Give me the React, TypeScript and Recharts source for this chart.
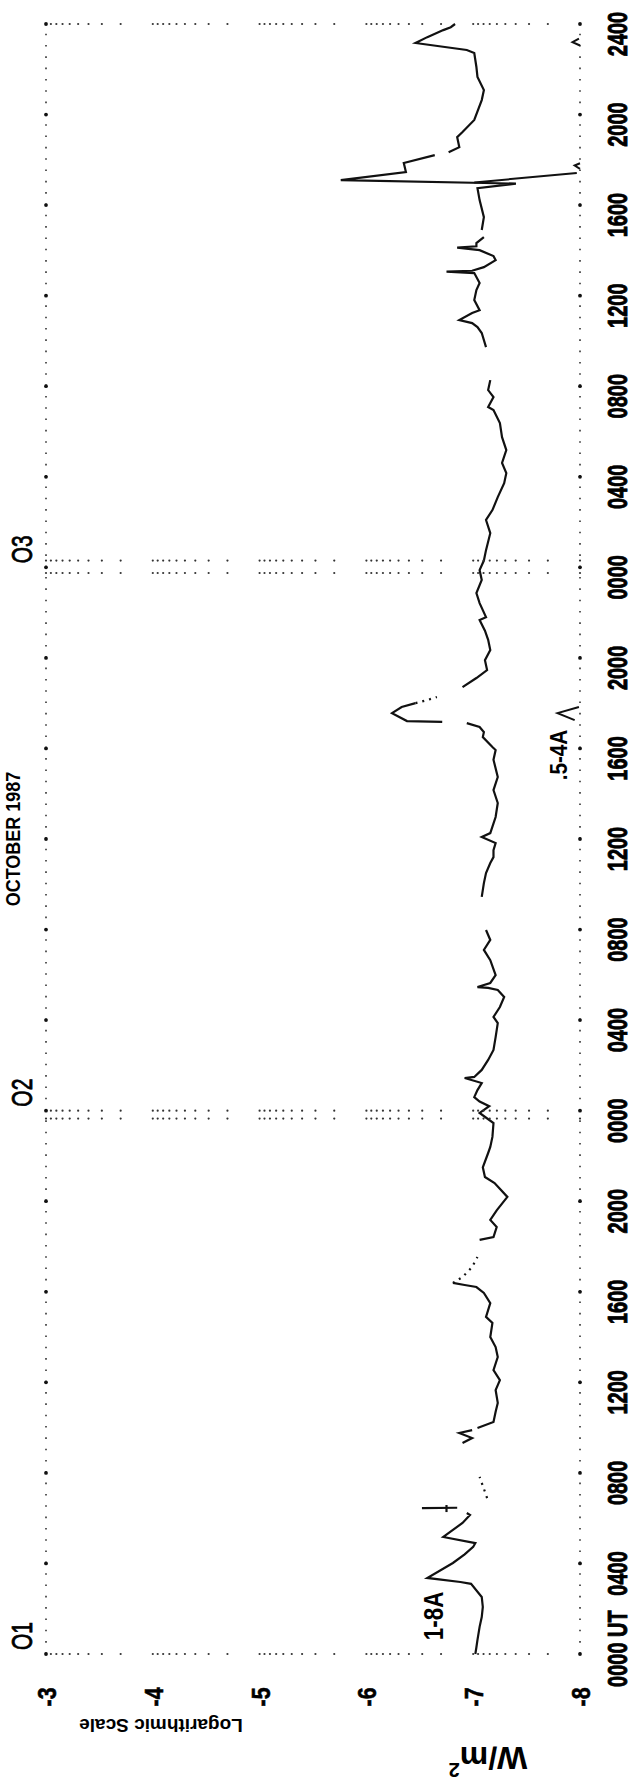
import { ComposedChart, Line, XAxis, YAxis, ReferenceLine, Customized } from "recharts";

type Pt = [number, number];

// hours since 0000 UT 1 Oct 1987, log10 of flux in W/m^2
// 1-8 A channel
const oct01Night: Pt[] = [
  [0.0, -7.02], [0.3, -7.03], [0.62, -7.04], [1.2, -7.06], [1.63, -7.08], [2.08, -7.09],
  [2.52, -7.08], [3.1, -6.98], [3.18, -6.88], [3.36, -6.57], [4.02, -6.81], [4.4, -6.92],
  [4.73, -7.0], [4.9, -7.02], [5.17, -6.72], [5.79, -6.9], [6.14, -6.97], [6.23, -6.94],
];
const oct01Step: Pt[] = [[6.44, -6.52], [6.46, -6.85]];
const oct01Tick: Pt[] = [[6.27, -6.75], [6.58, -6.75]];
const oct01Squiggle: Pt[] = [[9.32, -6.9], [9.54, -6.99], [9.76, -6.87], [9.89, -6.99]];
const oct01Day: Pt[] = [
  [9.98, -7.04], [10.25, -7.19], [10.7, -7.21], [11.09, -7.23], [11.66, -7.21], [12.1, -7.25],
  [12.54, -7.19], [13.12, -7.23], [13.56, -7.21], [14.0, -7.16], [14.62, -7.18], [14.89, -7.12],
  [15.5, -7.16], [15.95, -7.1], [16.21, -7.03], [16.3, -6.92], [16.39, -6.81],
];
const oct01Evening: Pt[] = [
  [18.29, -7.06], [18.42, -7.19], [18.86, -7.22], [19.17, -7.16], [19.6, -7.22], [20.19, -7.32],
  [20.8, -7.2], [21.07, -7.11], [21.5, -7.09], [22.13, -7.14], [22.4, -7.16], [22.84, -7.18],
  [23.45, -7.19], [23.9, -7.06], [24.2, -7.15], [24.4, -7.06], [24.6, -7.01], [24.91, -7.04],
  [25.22, -7.08], [25.44, -6.92], [25.49, -7.01], [25.8, -7.08], [26.24, -7.14], [26.68, -7.19],
  [27.25, -7.21], [27.87, -7.23], [28.14, -7.19], [28.58, -7.25], [29.02, -7.29], [29.33, -7.23],
  [29.42, -7.14], [29.46, -7.04], [29.64, -7.16], [29.99, -7.21], [30.65, -7.16], [31.1, -7.1],
  [31.54, -7.16], [31.98, -7.12],
];
const oct02Afternoon: Pt[] = [
  [33.44, -7.08], [34.05, -7.1], [34.5, -7.12], [34.94, -7.16], [35.2, -7.19], [35.51, -7.19],
  [35.82, -7.21], [36.09, -7.08], [36.26, -7.16], [36.97, -7.21], [37.59, -7.23], [38.16, -7.19],
  [38.74, -7.23], [39.5, -7.19], [39.93, -7.21], [40.06, -7.18], [40.5, -7.09], [40.72, -7.1],
  [40.95, -7.06], [41.12, -6.94],
];
const oct02Flare: Pt[] = [[41.17, -6.71], [41.21, -6.38], [41.56, -6.24], [41.83, -6.33], [42.0, -6.46]];
const oct02Night: Pt[] = [
  [42.71, -6.9], [43.11, -7.03], [43.46, -7.13], [43.9, -7.11], [44.35, -7.16], [44.8, -7.14],
  [45.2, -7.11], [45.67, -7.06], [45.8, -7.12], [46.42, -7.06], [46.86, -7.03], [47.44, -7.08],
  [47.88, -7.06], [48.3, -7.1], [48.76, -7.12], [49.51, -7.16], [50.09, -7.12], [50.53, -7.18],
  [51.1, -7.23], [51.72, -7.29], [52.16, -7.31], [52.61, -7.27], [53.18, -7.31], [53.75, -7.27],
  [54.37, -7.25], [54.95, -7.19], [55.08, -7.14], [55.52, -7.19], [55.83, -7.14], [56.27, -7.16],
];
const oct03Morning: Pt[] = [
  [57.73, -7.12], [58.35, -7.08], [58.61, -7.04], [58.79, -6.99], [58.92, -6.87], [59.23, -6.99],
  [59.36, -7.06], [59.81, -7.01], [60.25, -7.03], [60.56, -7.06], [61.0, -7.01], [61.06, -6.75],
  [61.1, -6.99], [61.26, -7.1], [61.57, -7.21], [61.75, -7.19], [62.01, -7.06], [62.12, -6.85],
  [62.18, -7.03], [62.32, -7.03], [62.59, -7.1],
];
const oct03Flare: Pt[] = [
  [62.9, -7.08], [63.47, -7.1], [64.22, -7.06], [64.75, -7.04], [64.95, -7.4], [65.1, -5.76],
  [65.46, -6.37], [65.86, -6.35], [66.21, -6.64],
];
const oct03Decay: Pt[] = [
  [66.34, -6.77], [66.56, -6.87], [67.0, -6.85], [67.23, -6.9], [67.76, -7.01], [68.64, -7.08],
  [69.08, -7.1], [69.66, -7.04], [70.1, -7.03], [70.72, -7.01], [70.85, -6.94], [71.16, -6.46],
  [71.42, -6.57], [71.73, -6.72], [71.86, -6.79], [72.0, -6.83],
];
// sparse / broken stretches of the 1-8 A trace
const oct01Dropout: Pt[] = [[6.89, -7.13], [7.3, -7.1], [7.82, -7.06]];
const oct01Decay: Pt[] = [[16.39, -6.81], [16.65, -6.9], [17.09, -6.99], [17.54, -7.04]];
const oct02FlareTail: Pt[] = [[42.0, -6.46], [42.14, -6.57], [42.27, -6.66]];

// .5-4 A channel, only above the -8 floor during flares
const hardFlare1: Pt[] = [[41.25, -7.95], [41.56, -7.79], [41.83, -7.99]];
const hardFlare2: Pt[] = [[65.0, -7.01], [65.42, -7.97]];
const hardFlare2b: Pt[] = [[65.6, -8.0], [65.75, -7.95], [65.85, -8.0]];
const hardFlare3: Pt[] = [[71.05, -8.0], [71.2, -7.93], [71.35, -7.99]];

const timeTicks = [0, 4, 8, 12, 16, 20, 24, 28, 32, 36, 40, 44, 48, 52, 56, 60, 64, 68, 72];
const timeLabels = [
  "0000 UT", "0400", "0800", "1200", "1600", "2000",
  "0000", "0400", "0800", "1200", "1600", "2000",
  "0000", "0400", "0800", "1200", "1600", "2000", "2400",
];
const fluxTicks = [-8, -7, -6, -5, -4, -3];
const dayStarts = [0, 24, 48];
const dayNames = ["O1", "O2", "O3"];
const gridRows = [0, 23.65, 24, 47.75, 48.3, 72];
const decades = [-8, -7, -6, -5, -4];
const minorSteps = [1, 2, 3, 4, 5, 6, 7, 8, 9];

const solid = [
  oct01Night, oct01Step, oct01Tick, oct01Squiggle, oct01Day, oct01Evening,
  oct02Afternoon, oct02Flare, oct02Night, oct03Morning, oct03Flare, oct03Decay,
];
const broken = [oct01Dropout, oct01Decay, oct02FlareTail];
const hard = [hardFlare1, hardFlare2, hardFlare2b, hardFlare3];

const rows = (pts: Pt[]) => pts.map(([t, v]) => ({ t, v }));

// log minor-tick dots along each day boundary
const minorDots = gridRows.flatMap((t) => [
  ...decades.flatMap((d) => minorSteps.map((k) => ({ t, v: d + Math.log10(k) }))),
  { t, v: -3 },
]);
const hourDots = timeTicks.flatMap((t) => [{ t, v: -3 }, { t, v: -8 }]);

// chart is drawn landscape and turned a quarter turn
const W = 1784;
const H = 637;
const PLOT_LEFT = 130;
const PLOT_RIGHT = 1760;
const PLOT_TOP = 46;
const PLOT_BOTTOM = 580;
const YAXIS_W = 70;
const XAXIS_H = 40;
const FONT = "'Liberation Sans', Arial, sans-serif";

const tx = (t: number) => PLOT_LEFT + (t / 72) * (PLOT_RIGHT - PLOT_LEFT);

function TimeTick(props: any) {
  const { x, payload } = props;
  const i = timeTicks.indexOf(payload.value);
  const label = timeLabels[i] ?? "";
  const first = i === 0;
  return (
    <text
      transform={`translate(${x - 10} ${PLOT_BOTTOM + 47}) scale(0.74 1)`}
      x={first ? -31 : 0}
      textAnchor={first ? "start" : "middle"}
      fontFamily={FONT}
      fontWeight="bold"
      fontSize={27}
      fill="#000"
      stroke="#000"
      strokeWidth={0.9}
    >
      {label}
    </text>
  );
}

function FluxTick(props: any) {
  const { y, payload } = props;
  return (
    <text
      transform={`translate(${PLOT_LEFT - 43} ${y + 10}) scale(0.82 1)`}
      textAnchor="middle"
      fontFamily={FONT}
      fontWeight="bold"
      fontSize={26}
      fill="#000"
      stroke="#000"
      strokeWidth={0.6}
    >
      {`${payload.value}`}
    </text>
  );
}

function axisHour(px: number) {
  return ((px - PLOT_LEFT) / (PLOT_RIGHT - PLOT_LEFT)) * 72;
}

function Annotations() {
  return (
    <g fontFamily={FONT} fill="#000">
      <text
        transform={`translate(${tx(36)} 20) scale(0.9 1)`}
        textAnchor="middle"
        fontWeight="bold"
        fontSize={20}
      >
        OCTOBER 1987
      </text>
      {dayStarts.map((t, i) => (
        <text
          key={t}
          transform={`translate(${tx(t) + 4} 32) scale(0.7 1)`}
          fontSize={30}
          stroke="#000"
          strokeWidth={0.8}
        >
          {dayNames[i]}
        </text>
      ))}
      <text
        transform="translate(59 161) rotate(-90)"
        textAnchor="middle"
        dominantBaseline="central"
        fontWeight="bold"
        fontSize={19}
      >
        Logarithmic Scale
      </text>
      <text
        transform="translate(26 488) rotate(-90)"
        textAnchor="middle"
        dominantBaseline="central"
        fontWeight="bold"
        fontSize={32}
      >
        W/m<tspan fontSize={20} dy={-12}>2</tspan>
      </text>
      <text
        transform={`translate(${tx(1.68)} 443) scale(0.8 1)`}
        textAnchor="middle"
        fontWeight="bold"
        fontSize={28}
      >
        1-8A
      </text>
      <text
        transform={`translate(${tx(axisHour(1029))} 567) scale(0.9 1)`}
        textAnchor="middle"
        fontWeight="bold"
        fontSize={23}
      >
        .5-4A
      </text>
    </g>
  );
}

export default function App() {
  return (
    <div
      style={{
        position: "absolute",
        left: 0,
        top: 0,
        width: H,
        height: W,
        overflow: "hidden",
        background: "#fff",
      }}
    >
      <div
        style={{
          position: "absolute",
          left: 0,
          top: 0,
          width: W,
          height: H,
          transformOrigin: "0 0",
          transform: `translate(0px, ${W}px) rotate(-90deg)`,
        }}
      >
        <ComposedChart
          width={W}
          height={H}
          margin={{
            top: PLOT_TOP,
            right: W - PLOT_RIGHT,
            bottom: H - PLOT_BOTTOM - XAXIS_H,
            left: PLOT_LEFT - YAXIS_W,
          }}
        >
          <XAxis
            type="number"
            dataKey="t"
            domain={[0, 72]}
            ticks={timeTicks}
            interval={0}
            axisLine={false}
            tickLine={false}
            height={XAXIS_H}
            tick={(p: any) => <TimeTick {...p} />}
          />
          <YAxis
            type="number"
            dataKey="v"
            domain={[-8, -3]}
            ticks={fluxTicks}
            interval={0}
            axisLine={false}
            tickLine={false}
            width={YAXIS_W}
            tick={(p: any) => <FluxTick {...p} />}
          />
          <ReferenceLine y={-3} stroke="#333" strokeWidth={1.6} strokeDasharray="1.6 9.72" />
          <ReferenceLine y={-8} stroke="#333" strokeWidth={1.6} strokeDasharray="1.6 9.72" />
          <Line
            data={minorDots}
            dataKey="v"
            stroke="none"
            dot={{ r: 1.1, fill: "#333", stroke: "none" }}
            isAnimationActive={false}
          />
          <Line
            data={hourDots}
            dataKey="v"
            stroke="none"
            dot={{ r: 1.9, fill: "#111", stroke: "none" }}
            isAnimationActive={false}
          />
          {solid.map((seg, i) => (
            <Line
              key={`s${i}`}
              data={rows(seg)}
              dataKey="v"
              stroke="#111"
              strokeWidth={2.2}
              dot={false}
              isAnimationActive={false}
            />
          ))}
          {broken.map((seg, i) => (
            <Line
              key={`b${i}`}
              data={rows(seg)}
              dataKey="v"
              stroke="#111"
              strokeWidth={2.2}
              strokeDasharray="2 5"
              dot={false}
              isAnimationActive={false}
            />
          ))}
          {hard.map((seg, i) => (
            <Line
              key={`h${i}`}
              data={rows(seg)}
              dataKey="v"
              stroke="#111"
              strokeWidth={2}
              dot={false}
              isAnimationActive={false}
            />
          ))}
          <Customized component={Annotations} />
        </ComposedChart>
      </div>
    </div>
  );
}
